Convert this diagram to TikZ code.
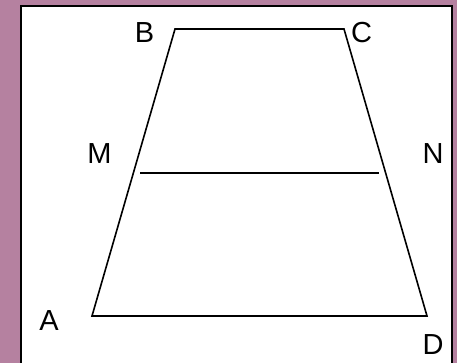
\documentclass[tikz,border=0pt]{standalone}
\usepackage{fontspec}
\setmainfont{Liberation Sans}
\definecolor{frame}{RGB}{181,129,160}
\begin{document}
\begin{tikzpicture}[x=1pt,y=-1pt,
  lbl/.style={inner sep=0pt,font=\fontsize{29}{30}\selectfont},
  edge/.style={line width=1.6pt},
  pt/.style={inner sep=0pt,minimum size=0pt}]
\useasboundingbox (0,0) rectangle (457,363);
\fill[frame] (0,0) rectangle (457,363);
\draw[fill=white,line width=2.2pt] (21,6) rectangle (452,368);
\coordinate (A) at (92,316);
\coordinate (B) at (175,29);
\coordinate (C) at (344,29);
\coordinate (D) at (427,316);
\coordinate (M) at (140,173);
\coordinate (N) at (379,173);
\draw[edge,line join=miter] (A) -- (B) -- (C) -- (D) -- cycle;
\draw[edge] (M) -- (N);
\node[lbl] (lA) at (49,320.5) {A};
\node[lbl] (lB) at (144.5,32.5) {B};
\node[lbl] (lC) at (361.5,32.5) {C};
\node[lbl] (lD) at (433,345) {D};
\node[lbl] (lM) at (99.5,153.5) {M};
\node[lbl] (lN) at (433,153.5) {N};
\end{tikzpicture}
\end{document}
